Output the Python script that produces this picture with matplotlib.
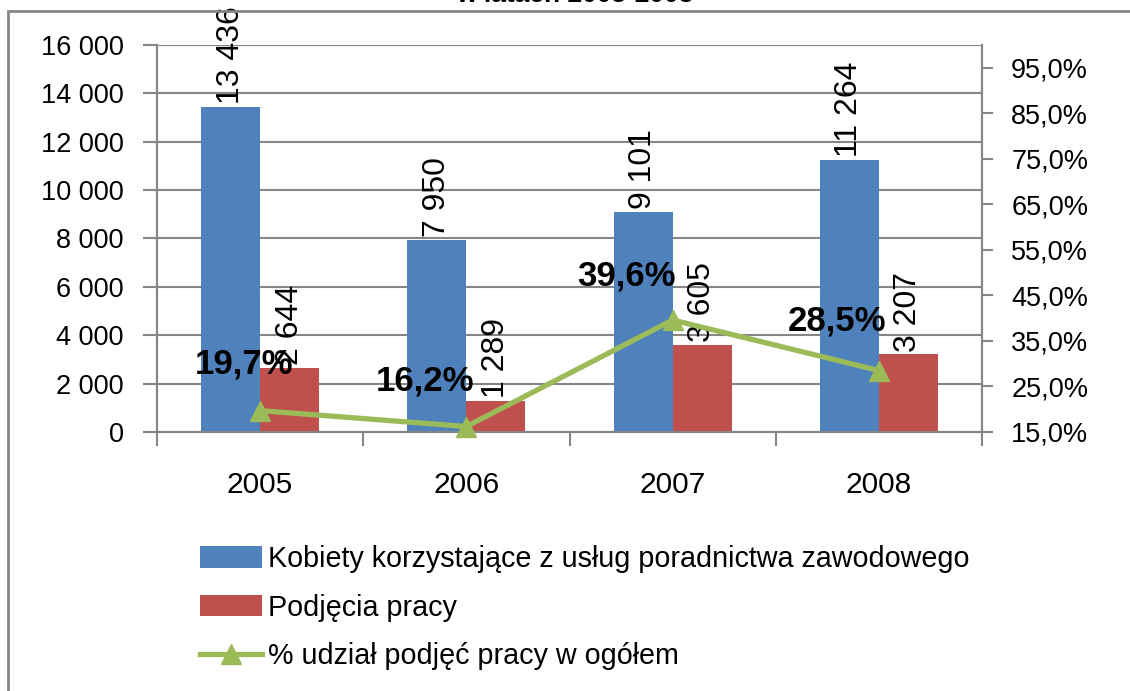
import matplotlib
matplotlib.use("Agg")
import matplotlib.pyplot as plt
from matplotlib.patches import Rectangle, Patch
from matplotlib.lines import Line2D
from matplotlib.ticker import FixedLocator

plt.rcParams['font.family'] = ['Liberation Sans', 'DejaVu Sans']

years = ['2005', '2006', '2007', '2008']
kobiety = [13436, 7950, 9101, 11264]
podjecia = [2644, 1289, 3605, 3207]
udzial = [19.7, 16.2, 39.6, 28.5]
legend_labels = ['Kobiety korzystające z usług poradnictwa zawodowego',
                 'Podjęcia pracy',
                 '% udział podjęć pracy w ogółem']
title_text = 'w latach 2005-2008'

BLUE = '#4F81BD'
RED = '#C0504D'
GREEN = '#9BBB59'
GRAY = '#868686'

W, H = 1130, 691
fig = plt.figure(figsize=(W / 100, H / 100), dpi=100)
ax = fig.add_axes([157 / W, 1 - 432 / H, (982 - 157) / W, (432 - 45) / H])
ax2 = ax.twinx()

def fmt_thousands(v):
    return f"{int(v):,}".replace(',', ' ')

x = list(range(len(years)))
bw = 0.286
xb = [i - bw / 2 for i in x]
xr = [i + bw / 2 for i in x]
ax.bar(xb, kobiety, width=bw, color=BLUE, zorder=3)
ax.bar(xr, podjecia, width=bw, color=RED, zorder=3)

ax.set_xlim(-0.5, len(years) - 0.5)
ax.set_ylim(0, 16000)
ax.set_yticks(range(0, 16001, 2000))
ax.set_yticklabels([fmt_thousands(v) for v in range(0, 16001, 2000)], fontsize=19.5)
ax.grid(axis='y', color=GRAY, linewidth=1.5, zorder=0)
ax.set_axisbelow(True)

ax.set_xticks(x)
ax.set_xticklabels(years, fontsize=21.5)
ax.xaxis.set_minor_locator(FixedLocator([i - 0.5 for i in range(len(years) + 1)]))
ax.tick_params(axis='x', which='major', length=0, pad=28)
ax.tick_params(axis='x', which='minor', length=10, width=1.5, color=GRAY, direction='out')
ax.tick_params(axis='y', length=10, width=1.5, color=GRAY, direction='out', pad=14)

for s in ['top']:
    ax.spines[s].set_visible(False)
    ax2.spines[s].set_visible(False)
for s in ['left', 'bottom', 'right']:
    ax.spines[s].set_color(GRAY)
    ax.spines[s].set_linewidth(1.5)
    ax2.spines[s].set_color(GRAY)
    ax2.spines[s].set_linewidth(1.5)

# value labels on bars
for xi, v in zip(xb, kobiety):
    ax.annotate(fmt_thousands(v), (xi, v), xytext=(0, 2), textcoords='offset points',
                rotation=90, ha='center', va='bottom', fontsize=23, zorder=5)
for xi, v in zip(xr, podjecia):
    ax.annotate(fmt_thousands(v), (xi, v), xytext=(0, 2), textcoords='offset points',
                rotation=90, ha='center', va='bottom', fontsize=23, zorder=5)

# secondary axis
ax2.set_ylim(15, 100)
ax2.set_yticks(range(15, 100, 10))
ax2.set_yticklabels([f"{v:.1f}%".replace('.', ',') for v in range(15, 100, 10)], fontsize=19.5)
ax2.tick_params(axis='y', length=8, width=1.5, color=GRAY, direction='out', pad=13)
ax2.plot(x, udzial, color=GREEN, linewidth=3.8, marker='^', markersize=14,
         markerfacecolor=GREEN, markeredgecolor=GREEN, zorder=6, clip_on=False)

pct_offsets = [(24, 22), (6, 21), (2, 20), (5, 24)]
for xi, v, off in zip(x, udzial, pct_offsets):
    ax2.annotate(f"{v:.1f}%".replace('.', ','), (xi, v), xytext=off,
                 textcoords='offset points', ha='right', va='bottom',
                 fontsize=25, fontweight='bold', zorder=7)

# outer chart border (extends beyond the crop)
fig.patches.append(Rectangle((8 / W, -0.2), 1.5, 1 - 11 / H + 0.2, transform=fig.transFigure,
                             fill=False, edgecolor=GRAY, linewidth=2, clip_on=False))

# partially cut-off title
fig.text(575 / W, 1 - 2 / H, title_text, ha='center', va='baseline',
         fontsize=19, fontweight='bold')

handles = [Patch(facecolor=BLUE), Patch(facecolor=RED),
           Line2D([0], [0], color=GREEN, linewidth=3.8, marker='^', markersize=14)]
fig.legend(handles, legend_labels, loc='upper left', bbox_to_anchor=(200 / W, 1 - 545 / H),
           frameon=False, fontsize=20.7, handlelength=2.15, handleheight=0.75,
           handletextpad=0.2, labelspacing=0.72, borderpad=0, borderaxespad=0)

fig.savefig('out.png', dpi=100)
